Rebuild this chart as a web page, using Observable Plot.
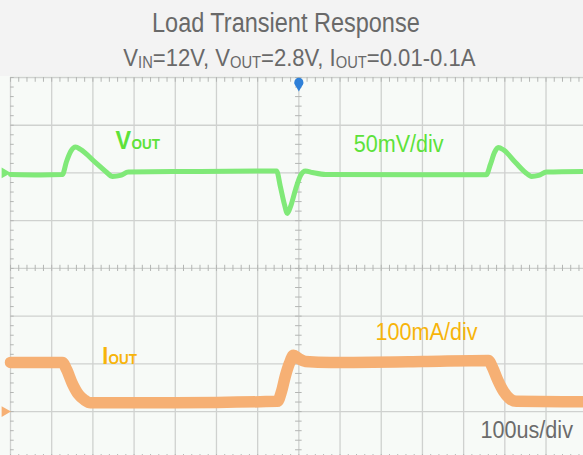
<!DOCTYPE html>
<html>
<head>
<meta charset="utf-8">
<script src="https://cdn.jsdelivr.net/npm/d3@7"></script>
<script src="https://cdn.jsdelivr.net/npm/@observablehq/plot@0.6"></script>
<style>
html, body { margin: 0; padding: 0; width: 583px; height: 455px; overflow: hidden; background: #f3f3f3;
  font-family: "Liberation Sans", Arial, Helvetica, sans-serif; }
#header { position: relative; height: 76px; }
.ttl { position: absolute; left: 0; width: 583px; text-align: center; color: #696969; white-space: nowrap; }
.ttl .in { display: inline-block; transform-origin: 50% 50%; }
#t1 { top: 10px; font-size: 27px; line-height: 27px; margin-left: -6px; }
#t1 .in { transform: scaleX(0.87); }
#t2 { top: 46px; font-size: 24px; line-height: 24px; margin-left: 8px; }
#t2 .in { transform: scaleX(0.92); }
#t2 sub { font-size: 16px; vertical-align: baseline; position: relative; top: 2px; }
#chart svg { display: block; }
</style>
</head>
<body>
<div id="header">
  <div class="ttl" id="t1"><span class="in" id="title"></span></div>
  <div class="ttl" id="t2"><span class="in" id="subtitle"></span></div>
</div>
<div id="chart"></div>
<script>
// ---- text ----
const titleText = "Load Transient Response";
const subtitleParts = [["V", "IN", "=12V, "], ["V", "OUT", "=2.8V, "], ["I", "OUT", "=0.01-0.1A"]];
const voutLabel = ["V", "OUT"];
const ioutLabel = ["I", "OUT"];
const voutScaleLabel = ["50mV/div"];
const ioutScaleLabel = ["100mA/div"];
const timeScaleLabel = ["100us/div"];

// ---- grid (time in µs, 100 µs/div; vertical in divisions) ----
const gridTimes = [0, 100, 200, 300, 400, 500, 600, 700, 800, 900, 1000, 1100, 1200, 1300];
const gridDivs = [-3, -2, -1, 0, 1, 2, 3, 4];

// ---- VOUT trace: time (µs) and deviation from 2.8 V (mV), 50 mV/div ----
const voutTime = [0, 73, 126, 136, 146, 158, 170, 206, 231, 248, 267, 286, 461, 646, 655, 665, 672, 680, 692, 704, 716, 733, 765, 1000, 1155, 1165, 1175, 1184, 1197, 1226, 1250, 1265, 1282, 1301, 1391];
const voutMv   = [-1.6, -2.1, -1.6, 12, 22.5, 27.2, 24.6, 11, 1.6, -3.7, -2.6, 1, 1.6, 2.1, -14, -33, -42.4, -35, -17.3, -2.6, 2.1, 0.5, -1.6, -1.8, -1.9, 8.9, 21.5, 26.7, 24.1, 11, 0.5, -3.7, -2.6, 1, 1.6];

// ---- IOUT trace: time (µs) and current (mA), 100 mA/div ----
const ioutTime = [0, 126, 136, 150, 165, 180, 194, 400, 648, 658, 667, 677, 687, 699, 716, 777, 1000, 1160, 1170, 1182, 1197, 1211, 1228, 1391];
const ioutMa   = [103, 103, 88.5, 59, 36, 24, 18.3, 18.5, 21.5, 42.4, 73.8, 101, 117.8, 111.5, 105, 103, 105, 107.3, 92.7, 67.5, 42.4, 27.8, 21.5, 20.4];

// channel offsets (divisions) and scales
const voutOffsetDiv = 2, voutMvPerDiv = 50;
const ioutOffsetDiv = -3, ioutMaPerDiv = 100;

// ---- header ----
document.getElementById("title").textContent = titleText;
const sub = document.getElementById("subtitle");
for (const [a, s, b] of subtitleParts) {
  sub.append(a);
  const el = document.createElement("sub"); el.textContent = s; sub.append(el);
  sub.append(b);
}

const vout = voutTime.map((t, i) => ({t, y: voutOffsetDiv + voutMv[i] / voutMvPerDiv}));
const iout = ioutTime.map((t, i) => ({t, y: ioutOffsetDiv + ioutMa[i] / ioutMaPerDiv}));

const minorTimes = d3.range(0, 1400, 20);
const minorDivs = d3.range(-3.8, 4.01, 0.2);

const gridColor = "#cfd1cf";
const tickColor = "#b4b6b4";
const green = "#80e978";
const greenText = "#5de23a";
const orange = "#f6b074";
const orangeText = "#f7b40a";
const font = "'Liberation Sans', Arial, sans-serif";

const chart = Plot.plot({
  width: 583, height: 379,
  marginLeft: 10, marginRight: 0, marginTop: 1, marginBottom: 0,
  x: {domain: [0, 1391], axis: null},
  y: {domain: [-3.92, 4], axis: null},
  style: {background: "#f7faf7", fontFamily: font},
  marks: [
    Plot.ruleX(gridTimes, {stroke: gridColor, strokeWidth: 1.3}),
    Plot.ruleY(gridDivs, {stroke: gridColor, strokeWidth: 1.3}),
    // minor ticks: borders and centre crosshair
    Plot.ruleX(minorTimes, {x: d => d, y1: 4, y2: 3.9, stroke: tickColor}),
    Plot.ruleX(minorTimes, {x: d => d, y1: -4, y2: -3.9, stroke: tickColor}),
    Plot.ruleX(minorTimes, {x: d => d, y1: -0.065, y2: 0.065, stroke: tickColor}),
    Plot.ruleY(minorDivs, {y: d => d, x1: 0, x2: 9, stroke: tickColor}),
    Plot.ruleY(minorDivs, {y: d => d, x1: 692, x2: 708, stroke: tickColor}),
    // traces
    Plot.line(iout, {x: "t", y: "y", stroke: orange, strokeWidth: 11.5, curve: "monotone-x", strokeLinejoin: "round"}),
    Plot.line(vout, {x: "t", y: "y", stroke: green, strokeWidth: 5, curve: "monotone-x", strokeLinejoin: "round"}),
    // channel ground markers and trigger marker
    Plot.dot([voutOffsetDiv], {x: -14, y: d => d, symbol: "triangle", rotate: 90, r: 4, fill: green}),
    Plot.dot([ioutOffsetDiv], {x: -14, y: d => d, symbol: "triangle", rotate: 90, r: 4, fill: orange}),
    Plot.dot([700], {x: d => d, y: 3.9, r: 4.5, fill: "#2f80d8"}),
    Plot.dot([700], {x: d => d, y: 3.82, symbol: "triangle", rotate: 180, r: 3.5, fill: "#2f80d8"}),
    // labels
    Plot.text([voutLabel[0]], {x: 255, y: 2.51, text: d => d, textAnchor: "start", lineAnchor: "bottom", fontSize: 26, fontWeight: "bold", fill: greenText}),
    Plot.text([voutLabel[1]], {x: 294, y: 2.51, text: d => d, textAnchor: "start", lineAnchor: "bottom", fontSize: 15, fontWeight: "bold", fill: greenText}),
    Plot.text(voutScaleLabel, {x: 833, y: 2.43, text: d => d, textAnchor: "start", lineAnchor: "bottom", fontSize: 24, fill: greenText}),
    Plot.text([ioutLabel[0]], {x: 223, y: -2.01, text: d => d, textAnchor: "start", lineAnchor: "bottom", fontSize: 24, fontWeight: "bold", fill: orangeText}),
    Plot.text([ioutLabel[1]], {x: 238, y: -2.01, text: d => d, textAnchor: "start", lineAnchor: "bottom", fontSize: 15, fontWeight: "bold", fill: orangeText}),
    Plot.text(ioutScaleLabel, {x: 886, y: -1.49, text: d => d, textAnchor: "start", lineAnchor: "bottom", fontSize: 24, fill: orangeText}),
    Plot.text(timeScaleLabel, {x: 1141, y: -3.56, text: d => d, textAnchor: "start", lineAnchor: "bottom", fontSize: 24, fill: "#6b6b6b"})
  ]
});
document.getElementById("chart").append(chart);

// condense label glyphs horizontally (the reference uses a narrow face)
chart.querySelectorAll("text").forEach(el => {
  const b = el.getBBox();
  const prev = el.getAttribute("transform") || "";
  el.setAttribute("transform", `${prev} translate(${b.x},0) scale(0.9,1) translate(${-b.x},0)`);
});
</script>
</body>
</html>
